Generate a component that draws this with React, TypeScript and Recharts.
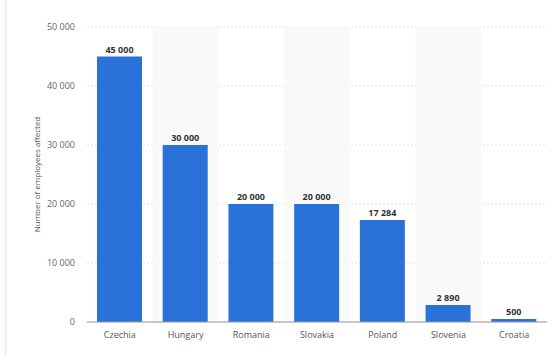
import React from 'react';
import { BarChart, Bar, XAxis, YAxis, CartesianGrid, LabelList, ReferenceArea } from 'recharts';

const countries = ['Czechia', 'Hungary', 'Romania', 'Slovakia', 'Poland', 'Slovenia', 'Croatia'];
const employees = [45000, 30000, 20000, 20000, 17284, 2890, 500];
const yTicks = [0, 10000, 20000, 30000, 40000, 50000];
const shadedCountries = ['Hungary', 'Slovakia', 'Slovenia'];

const data = countries.map((c, i) => ({ country: c, value: employees[i] }));

const fmt = (v: number) => String(v).replace(/\B(?=(\d{3})+(?!\d))/g, ' ');

export default function App() {
  return (
    <div style={{ position: 'absolute', left: 0, top: 0, width: 553, height: 355, background: '#fff', fontFamily: '"Open Sans", sans-serif' }}>
      <div style={{ position: 'absolute', left: 4, top: 0, width: 3, height: 355, background: '#f3f3f3' }} />
      <BarChart width={553} height={355} data={data} margin={{ top: 27, right: 6, left: 0, bottom: 0 }}>
        {shadedCountries.map((c) => (
          <ReferenceArea key={c} x1={c} x2={c} y1={0} y2={50000} fill="#f9f9f9" fillOpacity={1} stroke="none" ifOverflow="visible" />
        ))}
        <CartesianGrid vertical={false} stroke="#e2e2e2" strokeDasharray="2 2" />
        <XAxis
          dataKey="country"
          tickLine={false}
          axisLine={{ stroke: '#999', strokeWidth: 1 }}
          tick={{ fontSize: 9, fill: '#555' }}
          tickMargin={4}
          height={33}
        />
        <YAxis
          width={87}
          domain={[0, 50000]}
          ticks={yTicks}
          tickFormatter={fmt}
          tickLine={false}
          axisLine={false}
          tickMargin={6}
          tick={{ fontSize: 9, fill: '#666' }}
          label={{ value: 'Number of employees affected', angle: -90, position: 'center', dx: -6, style: { fontSize: 8, fill: '#555' } }}
        />
        <Bar dataKey="value" fill="#2a72d9" barSize={45} isAnimationActive={false}>
          <LabelList dataKey="value" position="top" offset={4} formatter={(v: any) => fmt(Number(v))} style={{ fontSize: 9, fontWeight: 700, fill: '#333' }} />
        </Bar>
      </BarChart>
    </div>
  );
}
